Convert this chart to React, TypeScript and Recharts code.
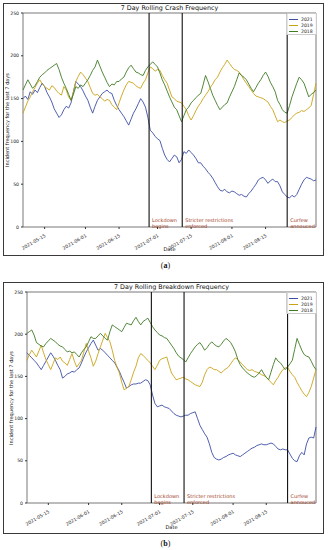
import React from 'react';
import { LineChart, Line, XAxis, YAxis, ReferenceLine, ReferenceArea } from 'recharts';

// daily values, day 0 = 2021-05-06
const crash2021 = [
  150, 153, 149, 158, 155, 160, 157, 163, 168, 164,
  157, 152, 146, 138, 133, 128, 131, 137, 141, 139,
  145, 158, 170, 167, 164, 159, 153, 148, 140, 133,
  141, 148, 152, 156, 158, 160, 157, 156, 148, 142,
  137, 133, 129, 124, 119, 126, 133, 138, 144, 150,
  146, 140, 128, 113, 110, 106, 103, 101, 92, 84,
  79, 76, 80, 84, 82, 75, 79, 88, 86, 90,
  87, 84, 80, 75, 75, 71, 68, 64, 61, 57,
  52, 47, 43, 42, 44, 41, 40, 42, 41, 39,
  37, 38, 36, 35, 39, 42, 46, 50, 55, 57,
  58, 55, 51, 54, 56, 53, 53, 48, 41, 38,
  35, 34, 37, 35, 38, 44, 50, 55, 58, 57,
  56, 54, 55,
];
const crash2019 = [
  133, 140, 147, 152, 158, 163, 168, 172, 167, 164,
  162, 160, 165, 163, 159, 156, 154, 164, 160, 152,
  148, 158, 170, 176, 181, 178, 174, 170, 163, 156,
  154, 155, 152, 150, 147, 149, 148, 143, 140, 137,
  145, 153, 160, 166, 170, 169, 168, 165, 163, 162,
  168, 172, 180, 187, 185, 182, 184, 183, 177, 172,
  168, 160, 152, 150, 147, 146, 145, 141, 137, 130,
  125, 130, 136, 141, 145, 150, 154, 158, 163, 167,
  172, 175, 181, 186, 190, 195, 191, 187, 184, 183,
  181, 177, 172, 168, 164, 160, 156, 153, 152, 151,
  150, 148, 146, 141, 137, 130, 123, 125, 123, 122,
  124, 125, 128, 131, 133, 134, 136, 135, 137, 139,
  142, 155, 168,
];
const crash2018 = [
  160, 166, 172, 167, 162, 165, 170, 175, 178, 180,
  183, 185, 187, 189, 191, 184, 175, 168, 162, 155,
  148, 155, 164, 162, 166, 164, 168, 172, 177, 183,
  187, 195, 188, 181, 175, 169, 164, 167, 166, 170,
  170, 173, 175, 181, 186, 189, 185, 181, 180, 178,
  177, 183, 187, 190, 193, 190, 187, 180, 172, 166,
  159, 152, 146, 140, 137, 130, 123, 130, 137, 140,
  145, 148, 151, 154, 156, 166, 177, 170, 162, 154,
  148, 142, 137, 140, 143, 145, 152, 158, 164, 172,
  180, 177, 175, 172, 167, 162, 158, 163, 168, 172,
  177, 181, 176, 169, 164, 158, 148, 143, 137, 134,
  133, 142, 152, 160, 168, 175, 172, 168, 160, 152,
  155, 157, 160,
];

const breakdown2021 = [
  178, 175, 172, 169, 166, 162, 158, 163, 168, 173,
  178, 174, 169, 163, 158, 148, 150, 153, 154, 156,
  155, 158, 160, 166, 173, 179, 184, 189, 193, 187,
  181, 183, 181, 178, 175, 172, 169, 166, 161, 156,
  149, 143, 136, 138, 140, 141, 141, 142, 142, 144,
  146, 145, 140, 128, 118, 114, 115, 116, 114, 113,
  112, 109, 106, 104, 103, 102, 103, 104, 104, 106,
  107, 108, 100, 92, 87, 82, 78, 70, 60, 54,
  52, 51, 52, 54, 55, 57, 58, 59, 57, 56,
  55, 57, 59, 61, 63, 65, 66, 68, 69, 70,
  69, 69, 70, 71, 70, 67, 64, 63, 64, 63,
  63, 58, 53, 50, 49, 56, 60, 57, 70, 77,
  78, 77, 90,
];
const breakdown2019 = [
  169, 176, 181, 177, 173, 180, 187, 178, 170, 164,
  158, 165, 172, 170, 173, 168, 166, 163, 170, 177,
  168, 161, 165, 169, 179, 189, 180, 172, 162, 168,
  177, 185, 193, 201, 196, 191, 181, 169, 161, 154,
  143, 134, 136, 138, 146, 155, 162, 172, 177, 175,
  172, 169, 166, 162, 158, 163, 169, 171, 172, 173,
  163, 154, 150, 146, 147, 148, 149, 147, 146, 144,
  142, 140, 139, 138, 143, 152, 158, 161, 160, 158,
  158, 156, 154, 157, 159, 161, 165, 169, 172, 170,
  167, 164, 161, 158, 157, 158, 156, 155, 154, 152,
  151, 149, 146, 143, 140, 145, 149, 154, 158, 160,
  161, 156, 152, 149, 143, 138, 133, 129, 126, 131,
  138, 148, 158,
];
const breakdown2018 = [
  201, 203, 205, 199, 190, 188, 186, 185, 189, 192,
  195, 193, 191, 188, 186, 185, 182, 179, 180, 178,
  179, 176, 173, 178, 182, 185, 191, 197, 195, 195,
  198, 201, 198, 195, 193, 203, 211, 209, 207, 205,
  203, 208, 213, 212, 211, 216, 220, 215, 211, 215,
  217, 219, 214, 209, 205, 202, 199, 198, 196, 195,
  191, 187, 183, 178, 174, 172, 170, 167, 172, 177,
  181, 185, 188, 190, 186, 181, 184, 188, 191, 188,
  186, 185, 188, 192, 195, 193, 190, 185, 179, 170,
  164, 160, 157, 154, 152, 150, 149, 151, 154, 158,
  153, 149, 146, 155, 164, 172, 168, 166, 162, 158,
  161, 165, 169, 182, 195, 188, 181, 176, 174, 173,
  168, 162, 158,
];

const tickDays = [9, 26, 40, 56, 70, 87, 101];
const tickLabels = ['2021-05-15', '2021-06-01', '2021-06-15', '2021-07-01', '2021-07-15', '2021-08-01', '2021-08-15'];
const yTicks = [0, 50, 100, 150, 200, 250];
const eventDays = [52.5, 66.3, 110];
const eventLabels = [['Lockdown', 'begins'], ['Stricter restrictions', 'enforced'], ['Curfew', 'annouced']];
const seriesNames = ['2021', '2019', '2018'];
const seriesColors = ['#3c4ea6', '#c9a316', '#3f7a25'];

const FONT = '"DejaVu Sans", sans-serif';
const ANNOT = '#a2401f';

const DateTick = (props: any) => {
  const { x, y, payload } = props;
  const label = tickLabels[tickDays.indexOf(payload.value)];
  return (
    <g transform={`translate(${x},${y + 3})`}>
      <text transform="rotate(-30)" textAnchor="end" dy={3} fontSize={4.6} fill="#222" fontFamily={FONT}>
        {label}
      </text>
    </g>
  );
};

const EventLabel = (props: any) => {
  const { viewBox, lines, offset } = props;
  const bottom = viewBox.y + viewBox.height;
  return (
    <text x={viewBox.x + 3} y={bottom - offset} fontSize={5} fill={ANNOT} fontFamily={FONT}>
      <tspan x={viewBox.x + 3}>{lines[0]}</tspan>
      <tspan x={viewBox.x + 3} dy={6.3}>{lines[1]}</tspan>
    </text>
  );
};

interface PanelProps {
  title: string;
  s2021: number[];
  s2019: number[];
  s2018: number[];
  top: number;
  height: number;
  yWidth: number;
  xHeight: number;
  labelOffset: number;
  legendTop: number;
  caption: string;
}

const Panel = ({ title, s2021, s2019, s2018, top, height, yWidth, xHeight, labelOffset, legendTop, caption }: PanelProps) => {
  const data = s2021.map((v, i) => ({ day: i, y2021: v, y2019: s2019[i], y2018: s2018[i] }));
  const plotTop = 10;
  const plotBottom = height - xHeight;
  const plotLeft = yWidth;
  const plotRight = 320 - 7;
  const keys = ['y2021', 'y2019', 'y2018'];
  return (
    <>
      <div style={{ position: 'absolute', left: 3, top, width: 321, height: height + 1, border: '1px solid #3a3a3a', boxSizing: 'border-box' }} />
      <div style={{ position: 'absolute', left: 3, top, width: 320, height }}>
        <div style={{ position: 'absolute', left: plotLeft, width: plotRight - plotLeft, top: 1, textAlign: 'center', fontSize: 6.4, fontFamily: FONT, color: '#111', lineHeight: '8px' }}>
          {title}
        </div>
        <div style={{ position: 'absolute', left: yWidth - 16, top: (plotTop + plotBottom) / 2, width: 0, height: 0 }}>
          <div style={{ position: 'absolute', transform: 'translate(-50%,-50%) rotate(-90deg)', whiteSpace: 'nowrap', fontSize: 5, fontFamily: FONT, color: '#111' }}>
            Incident frequency for the last 7 days
          </div>
        </div>
        <div style={{ position: 'absolute', left: plotLeft, width: plotRight - plotLeft, top: height - 9, textAlign: 'center', fontSize: 5, fontFamily: FONT, color: '#111', lineHeight: '6px' }}>
          Date
        </div>
        <LineChart width={320} height={height} data={data} margin={{ top: plotTop, right: 7, left: 0, bottom: 0 }}>
          <XAxis
            dataKey="day"
            type="number"
            domain={[0, 122]}
            ticks={tickDays}
            tick={<DateTick />}
            tickSize={2}
            height={xHeight}
            interval={0}
            stroke="#333"
            axisLine={false}
          />
          <YAxis
            type="number"
            domain={[0, 250]}
            ticks={yTicks}
            width={yWidth}
            tickSize={2}
            tick={{ fontSize: 4.6, fill: '#222', fontFamily: FONT }}
            stroke="#333"
            axisLine={false}
          />
          <ReferenceArea x1={0} x2={122} y1={0} y2={250} fill="none" stroke="#555" strokeWidth={0.8} />
          {keys.map((k, i) => (
            <Line key={k} dataKey={k} type="linear" stroke={seriesColors[i]} strokeWidth={0.9} dot={false} isAnimationActive={false} />
          ))}
          {eventDays.map((d, i) => (
            <ReferenceLine key={d} x={d} stroke="#111" strokeWidth={1.1} label={<EventLabel lines={eventLabels[i]} offset={labelOffset} />} />
          ))}
        </LineChart>
        <div style={{ position: 'absolute', left: 283, top: legendTop, width: 31, height: 22, border: '1px solid #ccc', background: 'rgba(255,255,255,0.85)', borderRadius: 1, boxSizing: 'border-box', paddingTop: 2 }}>
          {seriesNames.map((n, i) => (
            <div key={n} style={{ display: 'flex', alignItems: 'center', height: 6.3 }}>
              <div style={{ width: 9, height: 0, borderTop: `1px solid ${seriesColors[i]}`, marginLeft: 2, marginRight: 3 }} />
              <span style={{ fontSize: 4.6, fontFamily: FONT, color: '#222' }}>{n}</span>
            </div>
          ))}
        </div>
      </div>
      <div style={{ position: 'absolute', left: 0, width: 331, top: top + height + 6, textAlign: 'center', fontFamily: '"Liberation Serif", serif', fontSize: 8, color: '#111' }}>
        (<b>{caption}</b>)
      </div>
    </>
  );
};

export default function App() {
  return (
    <div style={{ position: 'absolute', left: 0, top: 0, width: 331, height: 550, background: '#fff' }}>
      <Panel
        title="7 Day Rolling Crash Frequency"
        s2021={crash2021}
        s2019={crash2019}
        s2018={crash2018}
        top={3}
        height={252}
        yWidth={20}
        xHeight={28}
        labelOffset={15}
        legendTop={10}
        caption="a"
      />
      <Panel
        title="7 Day Rolling Breakdown Frequency"
        s2021={breakdown2021}
        s2019={breakdown2019}
        s2018={breakdown2018}
        top={282}
        height={251}
        yWidth={24}
        xHeight={30}
        labelOffset={14}
        legendTop={10}
        caption="b"
      />
    </div>
  );
}
